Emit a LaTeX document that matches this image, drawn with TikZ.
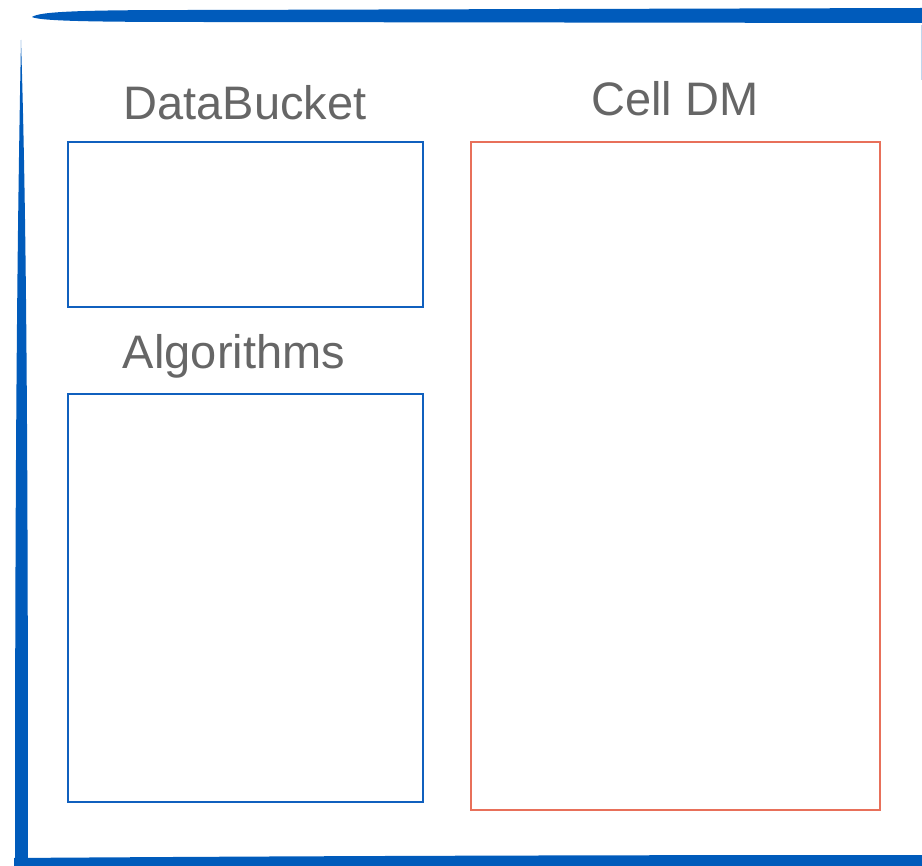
\documentclass[tikz,border=0pt]{standalone}
\usepackage{fontspec}
\setmainfont{Liberation Sans}
\definecolor{brushblue}{RGB}{0,91,187}
\definecolor{boxblue}{RGB}{16,96,190}
\definecolor{dmred}{RGB}{232,112,90}
\definecolor{labelgray}{RGB}{102,102,102}
\tikzset{
  panel/.style={draw, line width=2pt, minimum width=#1, inner sep=0pt},
  title/.style={anchor=base, text=labelgray, font=\fontsize{47}{50}\selectfont}
}
\begin{document}
\begin{tikzpicture}[x=1pt,y=-1pt]
		\useasboundingbox (0,0) rectangle (922,866);

		% brush strokes round the frame
		\fill[brushblue] (32,17) .. controls (40,11) and (90,10) .. (200,10) -- (922,8) -- (922,23) -- (200,22) .. controls (90,22) and (40,21) .. cycle;
		\fill[brushblue] (21,40) .. controls (18,200) and (15,400) .. (15,866) -- (28,866) .. controls (28,400) and (26,200) .. cycle;
		\fill[brushblue] (14,866) -- (14,858) .. controls (300,856) and (600,855) .. (922,855) -- (922,866) -- cycle;
		\draw[brushblue!25, line width=1pt] (921,25) -- (921,80);

		\node[panel=355pt, minimum height=165pt, boxblue] (bucket) at (245.5,224.5) {};
		\node[panel=355pt, minimum height=408pt, boxblue] (algos) at (245.5,598) {};
		\node[panel=409pt, minimum height=668pt, dmred] (celldm) at (675.5,476) {};

		\node[title] (bucketlabel) at (245,120) {DataBucket};
		\node[title] (algolabel) at (234,369) {Algorithms};
		\node[title] (celldmlabel) at (675,116) {Cell DM};

	\end{tikzpicture}
\end{document}
